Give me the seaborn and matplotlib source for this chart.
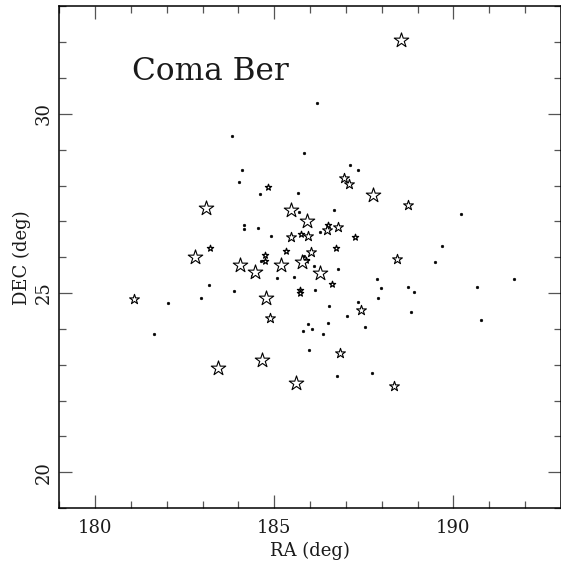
import numpy as np
import pandas as pd
import matplotlib
matplotlib.use("Agg")
import matplotlib.pyplot as plt
from matplotlib.ticker import MultipleLocator
import seaborn as sns

# bright stars (large open symbols)
big_ra = [188.53, 183.11, 185.48, 187.76, 185.92, 182.79, 184.04, 184.47,
          185.20, 185.78, 186.27, 184.76, 184.65, 183.43, 185.60]
big_dec = [32.05, 27.38, 27.33, 27.75, 27.00, 26.00, 25.78, 25.58,
           25.78, 25.87, 25.57, 24.85, 23.13, 22.90, 22.48]

# medium stars
mid_ra = [188.43, 181.10, 184.88, 187.42, 186.83, 188.35, 186.95, 187.09,
          188.72, 185.46, 185.93, 186.03, 186.46, 186.78]
mid_dec = [25.95, 24.83, 24.30, 24.53, 23.34, 22.42, 28.20, 28.05,
           27.46, 26.56, 26.60, 26.14, 26.76, 26.85]

# faint stars
small_ra = [184.82, 183.22, 184.74, 184.74, 185.32, 185.74, 187.25, 186.71,
            186.61, 185.72, 185.73, 185.88, 186.51]
small_dec = [27.95, 26.26, 26.06, 25.90, 26.17, 26.65, 26.56, 26.27,
             25.26, 25.09, 25.00, 25.92, 26.90]

# faintest members (dots)
dot_ra = [183.81, 184.10, 184.01, 184.59, 185.67, 185.69, 184.15, 184.15,
          184.55, 184.91, 183.18, 183.88, 182.95, 182.04, 181.64, 185.80,
          185.07, 185.56, 184.62, 186.18, 185.84, 187.11, 187.34, 190.20,
          186.67, 186.27, 189.69, 185.82, 186.12, 186.77, 189.48, 187.87,
          187.99, 188.72, 188.89, 190.66, 191.68, 187.90, 187.33, 186.53,
          187.02, 187.52, 188.82, 190.78, 185.95, 186.06, 186.51, 186.35,
          185.98, 186.74, 187.74, 186.13, 184.37]
dot_dec = [29.37, 28.43, 28.10, 27.76, 27.78, 27.25, 26.90, 26.78,
           26.83, 26.58, 25.23, 25.07, 24.87, 24.73, 23.87, 23.93,
           25.43, 25.44, 25.89, 30.30, 28.92, 28.57, 28.44, 27.22,
           27.31, 26.71, 26.32, 26.04, 25.76, 25.68, 25.86, 25.39,
           25.14, 25.16, 25.02, 25.16, 25.40, 24.87, 24.74, 24.65,
           24.35, 24.05, 24.46, 24.26, 24.14, 24.00, 24.16, 23.85,
           23.41, 22.68, 22.77, 25.10, 25.48]

sns.set_style("ticks")
plt.rcParams["font.family"] = ["DejaVu Serif"]

fig = plt.figure(figsize=(5.61, 5.62), dpi=100)
ax = fig.add_axes([59.1 / 561, 1 - 508.1 / 562, (561 - 59.1) / 561, (508.1 - 6.4) / 562])

dots = pd.DataFrame({"RA": dot_ra, "DEC": dot_dec})
sns.scatterplot(data=dots, x="RA", y="DEC", ax=ax, marker="o", s=4,
                color="black", edgecolor="black", linewidth=0.3)

for ra, dec, size, lw in [(small_ra, small_dec, 22, 0.9),
                          (mid_ra, mid_dec, 55, 0.8),
                          (big_ra, big_dec, 120, 0.8)]:
    df = pd.DataFrame({"RA": ra, "DEC": dec})
    sns.scatterplot(data=df, x="RA", y="DEC", ax=ax, marker="*", s=size,
                    facecolor="white", edgecolor="black", linewidth=lw)

ax.set_xlim(179, 193)
ax.set_ylim(19, 33)
ax.xaxis.set_major_locator(MultipleLocator(5))
ax.xaxis.set_minor_locator(MultipleLocator(1))
ax.yaxis.set_major_locator(MultipleLocator(5))
ax.yaxis.set_minor_locator(MultipleLocator(1))
ax.tick_params(which="both", direction="in", top=True, right=True,
               color="#555555", width=0.9, labelsize=13, labelcolor="#1a1a1a")
ax.tick_params(which="major", length=9.5)
ax.tick_params(axis="x", which="major", pad=8)
ax.tick_params(axis="y", which="major", pad=4.7)
ax.tick_params(which="minor", length=5)
for lab in ax.get_yticklabels():
    lab.set_rotation(90)
    lab.set_va("center")
for sp in ax.spines.values():
    sp.set_linewidth(1.1)
    sp.set_color("black")

ax.set_xlabel("RA (deg)", fontsize=13, labelpad=3, color="#1a1a1a")
ax.set_ylabel("DEC (deg)", fontsize=13, labelpad=2.6, color="#1a1a1a")
ax.text(181.03, 30.95, "Coma Ber", fontsize=22.5, ha="left", va="baseline",
        color="#1a1a1a")

fig.savefig("out.png", dpi=100)
